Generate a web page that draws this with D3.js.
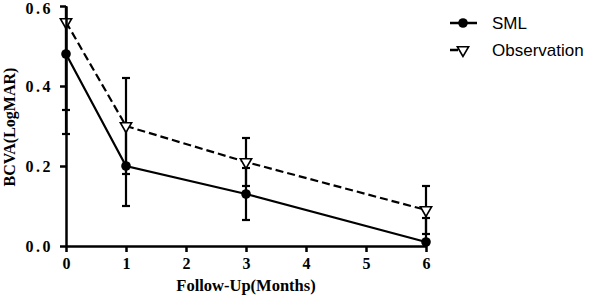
<!DOCTYPE html>
<html>
<head>
<meta charset="utf-8">
<script src="https://cdn.jsdelivr.net/npm/d3@7"></script>
<style>
  body { margin: 0; background: #fff; }
  svg { display: block; }
</style>
</head>
<body>
<div id="chart"></div>
<script>
// data
const months = [0, 1, 3, 6]
const smlMean = [0.48, 0.20, 0.13, 0.01]
const smlSd = [0.14, 0.10, 0.065, 0.06]
const obsMean = [0.56, 0.30, 0.21, 0.09]
const obsSd = [0.28, 0.12, 0.06, 0.06]
const xTicks = [0, 1, 2, 3, 4, 5, 6]
const yTicks = [0.0, 0.2, 0.4, 0.6]

const W = 594, H = 297
const svg = d3.select("#chart").append("svg")
    .attr("width", W)
    .attr("height", H)

const x = d3.scaleLinear().domain([0, 6]).range([66, 426])
const y = d3.scaleLinear().domain([0, 0.6]).range([246, 6])
const clampY = v => y(Math.max(0, Math.min(0.6, v)))

const series = [
    {name: "SML", mean: smlMean, sd: smlSd, dash: null, marker: "circle"},
    {name: "Observation", mean: obsMean, sd: obsSd, dash: "8,4", marker: "triangle"}
]

const tri = d3.symbol().type(d3.symbolTriangle).size(55)

// error bars
series.forEach(s => {
    const g = svg.append("g").attr("stroke", "#000").attr("stroke-width", 2.2)
    months.forEach((m, i) => {
        const lo = s.mean[i] - s.sd[i], hi = s.mean[i] + s.sd[i]
        g.append("line")
            .attr("x1", x(m)).attr("x2", x(m))
            .attr("y1", clampY(lo)).attr("y2", clampY(hi))
        if (hi <= 0.6) g.append("line")
            .attr("x1", x(m) - 4).attr("x2", x(m) + 4)
            .attr("y1", y(hi)).attr("y2", y(hi))
        if (lo >= 0) g.append("line")
            .attr("x1", x(m) - 4).attr("x2", x(m) + 4)
            .attr("y1", y(lo)).attr("y2", y(lo))
    })
})

// lines
const line = d3.line().x(d => x(d[0])).y(d => y(d[1]))
series.forEach(s => {
    svg.append("path")
        .datum(months.map((m, i) => [m, s.mean[i]]))
        .attr("d", line)
        .attr("fill", "none")
        .attr("stroke", "#000")
        .attr("stroke-width", 2.2)
        .attr("stroke-dasharray", s.dash)
})

function drawMarker(g, type, cx, cy) {
    if (type === "circle") {
        g.append("circle").attr("cx", cx).attr("cy", cy).attr("r", 4.8).attr("fill", "#000")
    } else {
        g.append("path").attr("d", tri)
            .attr("transform", `translate(${cx},${cy}) rotate(180)`)
            .attr("fill", "#fff").attr("stroke", "#000").attr("stroke-width", 1.6)
    }
}

series.forEach(s => {
    const g = svg.append("g")
    months.forEach((m, i) => drawMarker(g, s.marker, x(m), y(s.mean[i])))
})

// axes
const xAxis = svg.append("g")
    .attr("transform", `translate(0,${y(0)})`)
    .call(d3.axisBottom(x).tickValues(xTicks).tickFormat(d3.format("d"))
        .tickSize(6).tickSizeOuter(0).tickPadding(6))
const yAxis = svg.append("g")
    .attr("transform", `translate(${x(0)},0)`)
    .call(d3.axisLeft(y).tickValues(yTicks).tickFormat(d3.format(".1f"))
        .tickSize(6).tickSizeOuter(0).tickPadding(7))

;[xAxis, yAxis].forEach(a => {
    a.select(".domain").attr("stroke-width", 2.5)
    a.selectAll(".tick line").attr("stroke-width", 2.5)
    a.selectAll(".tick text")
        .attr("fill", "#000")
        .style("font-family", "'Liberation Serif', serif")
        .style("font-weight", "bold")
        .style("font-size", "16px")
})
yAxis.selectAll(".tick text")
    .style("letter-spacing", "2.5px")
    .attr("dy", d => d === 0.6 ? "0.45em" : "0.32em")

// axis titles
svg.append("text")
    .attr("x", 246).attr("y", 291)
    .attr("text-anchor", "middle")
    .style("font-family", "'Liberation Serif', serif")
    .style("font-weight", "bold")
    .style("font-size", "16.5px")
    .text("Follow-Up(Months)")

svg.append("text")
    .attr("transform", "translate(15,127) rotate(-90)")
    .attr("text-anchor", "middle")
    .style("font-family", "'Liberation Serif', serif")
    .style("font-weight", "bold")
    .style("font-size", "16px")
    .text("BCVA(LogMAR)")

// legend
const legend = svg.append("g")
series.forEach((s, i) => {
    const ly = 23 + i * 27
    legend.append("line")
        .attr("x1", 450).attr("x2", 477)
        .attr("y1", ly).attr("y2", ly)
        .attr("stroke", "#000").attr("stroke-width", 2.5)
        .attr("stroke-dasharray", s.dash ? "8,4,2,13" : null)
    drawMarker(legend, s.marker, 463, ly)
    legend.append("text")
        .attr("x", 492).attr("y", ly + 6)
        .style("font-family", "'Liberation Sans', Arial, sans-serif")
        .style("font-size", "17px")
        .text(s.name)
})
</script>
</body>
</html>
